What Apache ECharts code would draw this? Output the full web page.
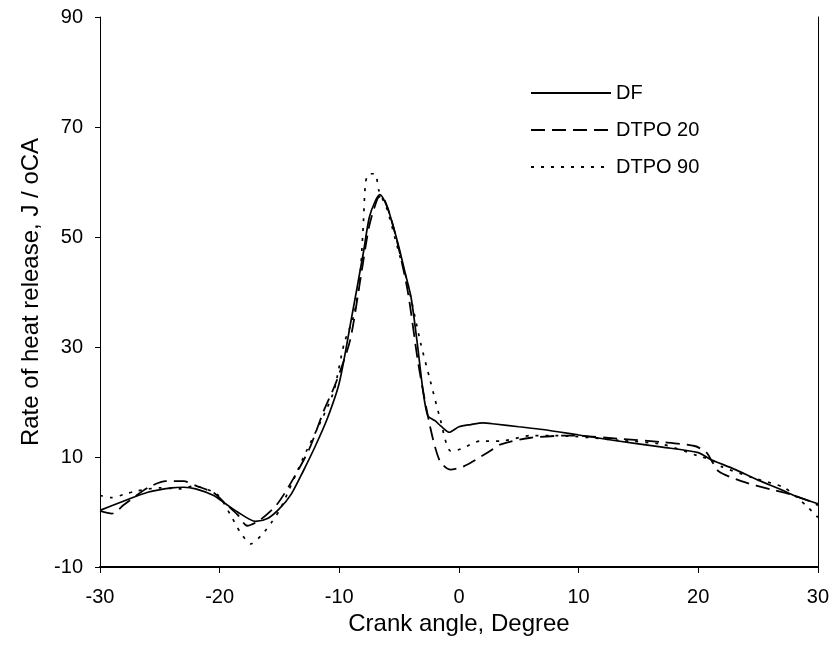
<!DOCTYPE html>
<html>
<head>
<meta charset="utf-8">
<script src="https://cdn.jsdelivr.net/npm/echarts@6/dist/echarts.min.js"></script>
<style>
  html, body { margin: 0; padding: 0; background: #fff; }
  #main { width: 832px; height: 646px; }
</style>
</head>
<body>
<div id="main"></div>
<script>
// crank angle (deg) and heat release rate (J/oCA)
const dfX = [-30, -28, -26, -24, -23, -22, -20.5, -19.5, -18.5, -17, -16, -15, -14, -13, -12, -11, -10, -9, -8, -7.5, -7, -6.6, -6, -5.5, -5, -4.5, -4, -3.5, -3, -2.6, -2, -1.5, -0.8, 0, 1, 2, 3, 5, 7, 10, 13, 17, 20, 21, 23, 25, 27, 28, 30]
const dfY = [0.3, 2.0, 3.6, 4.4, 4.5, 4.2, 3.0, 1.5, 0, -1.7, -1.2, 0.6, 3.3, 7.5, 12, 17, 23.5, 35, 47, 53.5, 56.5, 57.7, 55.5, 52, 48, 43.5, 39, 31, 22, 17.5, 16.6, 15.6, 14.5, 15.5, 15.9, 16.2, 16.0, 15.5, 15.0, 14.0, 13.0, 11.8, 10.8, 9.6, 7.8, 5.8, 4.0, 3.0, 1.5]

const d20X = [-30, -29, -28, -26, -24.5, -23, -22, -20.5, -19.5, -18.5, -17.7, -16.6, -15.2, -13.8, -12.5, -11.3, -10.3, -9.1, -8.2, -7.5, -6.8, -6.5, -5.5, -4.3, -3.4, -2.4, -1.6, -0.7, 0.4, 2.4, 3.5, 6, 9.3, 13.5, 17, 19.7, 20.7, 21.1, 21.7, 23.6, 26.1, 27.7, 29.4, 30]
const d20Y = [0.2, -0.3, 1.3, 4.4, 5.6, 5.6, 4.8, 3.5, 1.5, -0.5, -2.5, -1.4, 1.4, 6.2, 11.5, 18.4, 23.4, 31.2, 42.8, 52, 57, 57.5, 52, 40.4, 27, 15.4, 9.3, 7.7, 8.3, 10.8, 12.3, 13.5, 13.9, 13.3, 12.7, 12, 10.8, 9.4, 7.4, 5.6, 4.1, 3.2, 1.9, 1.2]

const d90X = [-30, -29, -28, -27, -25, -23.3, -22.2, -20.2, -19.1, -18.3, -17.4, -16.5, -15.6, -14.9, -13, -11, -10.4, -9.6, -8.8, -8.3, -8.0, -7.8, -7.5, -7, -6.7, -6, -5, -4.3, -3.2, -2.4, -1.6, -0.7, 0.1, 1.8, 3.5, 6, 8, 13.5, 17, 20, 21.2, 21.9, 24.6, 27.2, 29.1, 30]
const d90Y = [3.0, 2.6, 3.2, 3.8, 4.4, 4.2, 4.7, 3.2, -0.5, -3.6, -5.8, -4.2, -1.7, 0.7, 9.9, 19, 22.4, 30.6, 35.6, 42, 52, 60, 61.5, 61.5, 58.5, 55, 47, 41.7, 30.7, 23.9, 17.2, 11.1, 11.4, 12.9, 12.9, 13.9, 13.9, 13.0, 12.3, 10.2, 9.4, 8.3, 6.2, 4.4, 1.0, -1.0]

const seriesNames = ['DF', 'DTPO 20', 'DTPO 90']

function pairs (xs, ys) {
  return xs.map((x, i) => [x, ys[i]])
}

const font = "'Liberation Sans', Arial, sans-serif"
let myChart = echarts.init(document.getElementById('main'), null, { renderer: 'canvas' })

let lineBase = {
  type: 'line',
  smooth: 0.25,
  symbol: 'none',
  color: '#000',
  animation: false
}

var option = {
  backgroundColor: '#fff',
  textStyle: { fontFamily: font },
  grid: {
    left: 100,
    right: 14,
    top: 17,
    bottom: 79
  },
  legend: {
    orient: 'vertical',
    left: 530,
    top: 83,
    padding: 0,
    itemWidth: 80,
    itemHeight: 20,
    itemGap: 17,
    itemStyle: { opacity: 0 },
    textStyle: { fontSize: 20, color: '#000', fontFamily: font },
    data: seriesNames
  },
  xAxis: {
    type: 'value',
    min: -30,
    max: 30,
    interval: 10,
    name: 'Crank angle, Degree',
    nameLocation: 'middle',
    nameGap: 44,
    nameTextStyle: { fontSize: 24, color: '#000', fontFamily: font },
    axisLine: { onZero: false, lineStyle: { color: '#000', width: 2 } },
    axisTick: { length: 6, lineStyle: { color: '#000' } },
    axisLabel: { fontSize: 20, color: '#000', margin: 20, fontFamily: font },
    splitLine: { show: false }
  },
  yAxis: [
    {
      type: 'value',
      min: -10,
      max: 90,
      interval: 20,
      name: 'Rate of heat release, J / oCA',
      nameLocation: 'middle',
      nameGap: 54,
      nameTextStyle: { fontSize: 24, color: '#000', fontFamily: font },
      axisLine: { show: true, onZero: false, lineStyle: { color: '#000', width: 1 } },
      axisTick: { length: 5, lineStyle: { color: '#000' } },
      axisLabel: { fontSize: 20, color: '#000', margin: 17, fontFamily: font },
      splitLine: { show: false }
    },
    {
      type: 'value',
      position: 'right',
      min: -10,
      max: 90,
      interval: 20,
      axisLine: { show: true, onZero: false, lineStyle: { color: '#000', width: 1 } },
      axisTick: { show: false },
      axisLabel: { show: false },
      splitLine: { show: false }
    }
  ],
  series: [
    Object.assign({}, lineBase, {
      name: 'DF',
      data: pairs(dfX, dfY),
      lineStyle: { color: '#000', width: 1.7, type: 'solid' }
    }),
    Object.assign({}, lineBase, {
      name: 'DTPO 20',
      data: pairs(d20X, d20Y),
      lineStyle: { color: '#000', width: 1.8, type: [14, 7] }
    }),
    Object.assign({}, lineBase, {
      name: 'DTPO 90',
      data: pairs(d90X, d90Y),
      lineStyle: { color: '#000', width: 1.7, type: [3, 7] }
    })
  ]
}

myChart.setOption(option, true)
</script>
</body>
</html>
